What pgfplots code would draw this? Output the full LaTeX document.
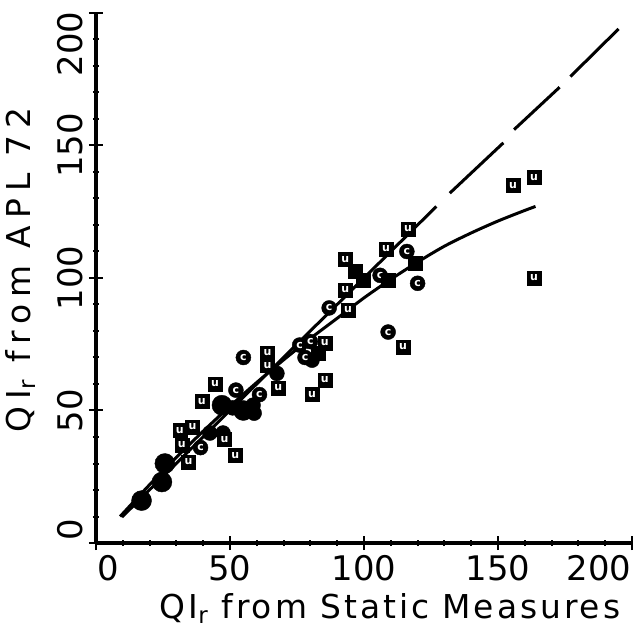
\documentclass[border=0pt]{standalone}
\usepackage{pgfplots}
\pgfplotsset{compat=1.18}
\usepackage{fontspec}
\setmainfont{DejaVu Sans}
\newfontfamily\xlfont[LetterSpace=9]{DejaVu Sans}
\newfontfamily\ylfont[LetterSpace=21]{DejaVu Sans}
\begin{document}
\begin{tikzpicture}
\begin{axis}[name=ax, scale only axis, width=536bp, height=530bp,
  xmin=0, xmax=200, ymin=0, ymax=200,
  axis lines=left, axis line style={line width=3.2bp, -},
  clip=false,
  xtick={0,50,100,150,200}, ytick={0,50,100,150,200},
  minor x tick num=4, minor y tick num=4,
  tick align=center, major tick length=14bp, minor tick length=6bp,
  every tick/.style={line width=2bp, black},
  xticklabels={{\hspace*{24bp}0},50,100,150,{200\hspace*{66bp}}},
  yticklabels={{\hspace*{26bp}0},50,100,150,{200\hspace*{62bp}}},
  ticklabel style={font=\fontsize{34}{38}\selectfont},
  yticklabel style={rotate=90, anchor=south, yshift=2bp},
  xticklabel style={yshift=-2bp},
  xlabel={\xlfont QI\textsubscript{r} from Static Measures},
  ylabel={\ylfont QI\textsubscript{r} from APL 72},
  label style={font=\fontsize{33}{38}\selectfont},
  xlabel style={xshift=26bp, yshift=-6bp},
  ylabel style={yshift=16bp, xshift=8bp},
]
% 1:1 line, solid then dashed
\addplot[black, line width=3bp, unbounded coords=jump] coordinates {
 (9.7,9.8) (127,127) (nan,nan)
 (132,132) (152,151) (nan,nan)
 (156,156) (173,172) (nan,nan)
 (177,176) (195,194)};
% fitted curve
\addplot[black, line width=3bp, smooth] coordinates {
 (9,10) (20,22.0) (30,32.3) (40,42.2) (50,51.6) (60,60.6) (70,69.1)
 (80,77.2) (90,84.8) (100,92.5) (110,99.5) (120,106) (130,112)
 (140,117) (150,121.5) (160,125.5) (164,127)};
% big blobs
\addplot[only marks, mark=*, mark size=10bp, black] coordinates {
 (17,16) (24.6,23) (25.7,30) (47,52) (55,50)};
% circles
\addplot[only marks, mark=*, mark size=7.5bp, black] coordinates {
 (116,110) (120,98) (106,101) (87,88.7) (109,79.6) (55,70) (76,74.7)
 (80,76) (78,70) (80.6,69) (52.2,57.7) (61,56) (47.4,51.3) (58.6,52)
 (59,49) (51,51) (42.5,41.5) (47.4,41.5) (39,36) (67.5,64)};
\addplot[only marks, mark=text, text mark={\textcolor{white}{\bfseries\fontsize{11}{11}\selectfont c}}] coordinates {
 (116,110) (120,98) (106,101) (87,88.7) (109,79.6) (55,70) (76,74.7)
 (80,76) (78,70) (52.2,57.7) (61,56) (39,36)};
% squares
\addplot[only marks, mark=square*, mark size=7bp, black, mark options={rounded corners=2.5bp}] coordinates {
 (155.6,135) (163.4,138) (163.4,100) (116.4,118.5) (108.2,111) (119,105.6)
 (93,107) (96.6,102.6) (93,95.5) (94,88) (114.6,74) (64,71.7) (64,67)
 (68,58.5) (85.4,75.5) (83,71.7) (85.4,61.5) (80.6,56) (44.4,60)
 (39.5,53.5) (52,33) (48,39) (31.3,42.6) (36,43.8) (32,37) (34.5,30.6)
 (99.6,99) (109,99)};
\addplot[only marks, mark=text, text mark={\textcolor{white}{\bfseries\fontsize{11}{11}\selectfont u}}] coordinates {
 (155.6,135) (163.4,138) (163.4,100) (116.4,118.5) (108.2,111)
 (93,107) (93,95.5) (94,88) (114.6,74) (64,71.7) (64,67)
 (68,58.5) (85.4,75.5) (85.4,61.5) (80.6,56) (44.4,60)
 (39.5,53.5) (52,33) (48,39) (31.3,42.6) (36,43.8) (32,37) (34.5,30.6)};
\end{axis}
\pgfresetboundingbox
\path[use as bounding box] ([shift={(-96bp,-95bp)}]ax.south west) rectangle ([shift={(6bp,13bp)}]ax.north east);
\end{tikzpicture}
\end{document}
